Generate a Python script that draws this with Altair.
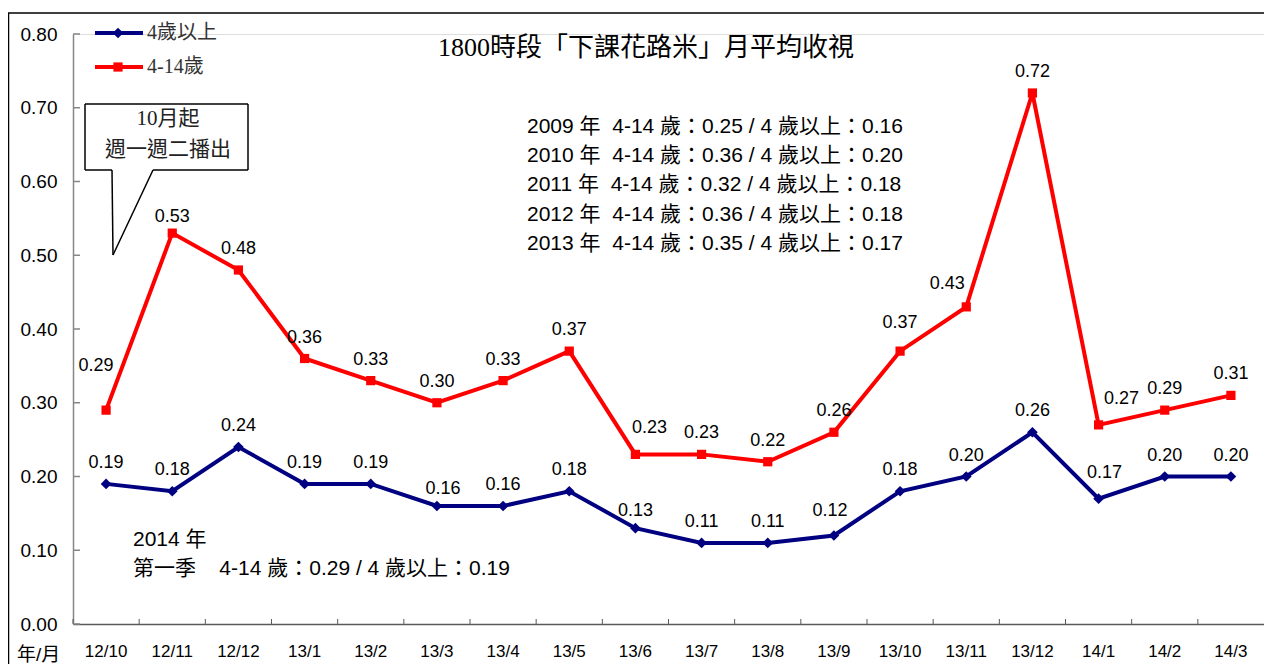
import altair as alt
import pandas as pd

months = ["12/10", "12/11", "12/12", "13/1", "13/2", "13/3", "13/4", "13/5", "13/6",
          "13/7", "13/8", "13/9", "13/10", "13/11", "13/12", "14/1", "14/2", "14/3"]
series_names = ["4歲以上", "4-14歲"]
age_4plus = [0.19, 0.18, 0.24, 0.19, 0.19, 0.16, 0.16, 0.18, 0.13,
             0.11, 0.11, 0.12, 0.18, 0.20, 0.26, 0.17, 0.20, 0.20]
age_4_14 = [0.29, 0.53, 0.48, 0.36, 0.33, 0.30, 0.33, 0.37, 0.23,
            0.23, 0.22, 0.26, 0.37, 0.43, 0.72, 0.27, 0.29, 0.31]
y_ticks = [0.0, 0.1, 0.2, 0.3, 0.4, 0.5, 0.6, 0.7, 0.8]

NB = "\u00a0"
title_text = "1800時段「下課花路米」月平均收視"
callout_lines = ["10月起", "週一週二播出"]
stats_lines = [
    "2009 年  4-14 歲：0.25 / 4 歲以上：0.16",
    "2010 年  4-14 歲：0.36 / 4 歲以上：0.20",
    "2011 年  4-14 歲：0.32 / 4 歲以上：0.18",
    "2012 年  4-14 歲：0.36 / 4 歲以上：0.18",
    "2013 年  4-14 歲：0.35 / 4 歲以上：0.17",
]
q1_lines = ["2014 年", "第一季    4-14 歲：0.29 / 4 歲以上：0.19"]
axis_unit = "年/月"

NAVY = "#000080"
RED = "#FF0000"
SANS = "Liberation Sans, Noto Sans CJK TC"
SERIF = "Liberation Serif, Noto Sans CJK TC"

W = 1191
H = 590

def keep_spaces(s):
    return s.replace(" ", NB)

rows = []
for m, v in zip(months, age_4plus):
    rows.append({"month": m, "series": series_names[0], "value": v})
for m, v in zip(months, age_4_14):
    rows.append({"month": m, "series": series_names[1], "value": v})
df = pd.DataFrame(rows)

one = pd.DataFrame({"k": [0]})

xenc = alt.X("month:N", sort=months,
             scale=alt.Scale(type="band", paddingInner=0, paddingOuter=0),
             axis=alt.Axis(title=None, labelAngle=0, ticks=False, tickSize=0,
                           labelPadding=19, labelFontSize=17, labelFont=SANS,
                           labelColor="#000", domainColor="#595959", domainWidth=1.5))
yenc = alt.Y("value:Q", scale=alt.Scale(domain=[0, 0.8], nice=False, zero=True),
             axis=alt.Axis(title=None, values=y_ticks, format=".2f", ticks=False, tickSize=0,
                           labelPadding=16, labelFontSize=19, labelFont=SANS,
                           labelColor="#000", domainColor="#868686", domainWidth=1.5,
                           grid=False))
color = alt.Color("series:N", scale=alt.Scale(domain=series_names, range=[NAVY, RED]),
                  legend=None)

base = alt.Chart(df)
lines = base.mark_line(strokeWidth=4).encode(x=xenc, y=yenc, color=color)
pts_navy = base.transform_filter(alt.datum.series == series_names[0]).mark_point(
    shape="diamond", filled=True, size=115, color=NAVY, opacity=1).encode(x=xenc, y=yenc)
pts_red = base.transform_filter(alt.datum.series == series_names[1]).mark_point(
    shape="square", filled=True, size=85, color=RED, opacity=1).encode(x=xenc, y=yenc)

exceptions = {
    (series_names[1], "12/10"): (-10, -44),
    (series_names[1], "12/11"): (0, -16),
    (series_names[1], "13/6"): (14, -26),
    (series_names[1], "13/10"): (0, -28),
    (series_names[1], "13/11"): (-19, -23),
    (series_names[1], "14/1"): (23, -26),
    (series_names[0], "13/3"): (6, -17),
    (series_names[0], "13/6"): (0, -17),
    (series_names[0], "14/1"): (6, -26),
    (series_names[0], "13/9"): (-4, -25),
}

def is_exc():
    cond = None
    for (s, m) in exceptions:
        c = (alt.datum.series == s) & (alt.datum.month == m)
        cond = c if cond is None else (cond | c)
    return cond

lbl_kw = dict(fontSize=18, font=SANS, color="#000", baseline="middle", align="center")
labels = base.transform_filter(~is_exc()).mark_text(dy=-21, **lbl_kw).encode(
    x=xenc, y=yenc, text=alt.Text("value:Q", format=".2f"))
exc_layers = []
for (s, m), (dx, dy) in exceptions.items():
    exc_layers.append(
        base.transform_filter((alt.datum.series == s) & (alt.datum.month == m))
        .mark_text(dx=dx, dy=dy, **lbl_kw)
        .encode(x=xenc, y=yenc, text=alt.Text("value:Q", format=".2f")))

# axis ticks (inward, Excel style)
xt = alt.Chart(pd.DataFrame({"month": months})).mark_rule(color="#595959", strokeWidth=1).encode(
    x=alt.X("month:N", sort=months, bandPosition=0), y=alt.value(H), y2=alt.value(H - 5))
yt = alt.Chart(pd.DataFrame({"value": y_ticks})).mark_rule(color="#868686", strokeWidth=1.5).encode(
    y=alt.Y("value:Q"), x=alt.value(0), x2=alt.value(7))

deco = []
# outer frame
deco.append(alt.Chart(one).mark_rule(color="#000", strokeWidth=1.5).encode(
    x=alt.value(-64.5), y=alt.value(-21), y2=alt.value(H + 45)))
deco.append(alt.Chart(one).mark_rule(color="#000", strokeWidth=1.5).encode(
    x=alt.value(-65), x2=alt.value(W + 10), y=alt.value(-21)))
# title
deco.append(alt.Chart(one).mark_text(text=title_text, font=SERIF, fontSize=26, color="#000",
                                     align="center", baseline="middle").encode(
    x=alt.value(573), y=alt.value(14)))
# legend
for i, (nm, col, shp, sz) in enumerate([(series_names[0], NAVY, "diamond", 115),
                                         (series_names[1], RED, "square", 85)]):
    yy = -1 + 34 * i
    deco.append(alt.Chart(one).mark_rule(color=col, strokeWidth=4).encode(
        x=alt.value(22), x2=alt.value(70), y=alt.value(yy)))
    deco.append(alt.Chart(one).mark_point(shape=shp, filled=True, size=sz, color=col, opacity=1).encode(
        x=alt.value(45), y=alt.value(yy)))
    deco.append(alt.Chart(one).mark_text(text=nm, font=SERIF, fontSize=20, color="#333",
                                         align="left", baseline="middle").encode(
        x=alt.value(74), y=alt.value(yy)))
# callout box
segs = [(12, 70, 175, 70), (12, 70, 12, 136), (175, 70, 175, 136),
        (12, 136, 39, 136), (80, 136, 175, 136), (39, 136, 40, 221), (40, 221, 80, 136)]
for (x1, y1, x2, y2) in segs:
    deco.append(alt.Chart(one).mark_rule(color="#000", strokeWidth=1.5).encode(
        x=alt.value(x1), y=alt.value(y1), x2=alt.value(x2), y2=alt.value(y2)))
for i, t in enumerate(callout_lines):
    deco.append(alt.Chart(one).mark_text(text=t, font=SERIF, fontSize=21, color="#222",
                                         align="center", baseline="middle").encode(
        x=alt.value(95), y=alt.value(85 + 31 * i)))
# stats block
for i, t in enumerate(stats_lines):
    deco.append(alt.Chart(one).mark_text(text=keep_spaces(t), font=SANS, fontSize=21, color="#000",
                                         align="left", baseline="middle").encode(
        x=alt.value(454), y=alt.value(93 + 29.2 * i)))
for i, t in enumerate(q1_lines):
    deco.append(alt.Chart(one).mark_text(text=keep_spaces(t), font=SANS, fontSize=21, color="#000",
                                         align="left", baseline="middle").encode(
        x=alt.value(60), y=alt.value(506 + 29 * i)))
deco.append(alt.Chart(one).mark_text(text=axis_unit, font=SANS, fontSize=19, color="#000",
                                     align="left", baseline="middle").encode(
    x=alt.value(-56), y=alt.value(621)))

chart = alt.layer(lines, pts_navy, pts_red, labels, *exc_layers, xt, yt, *deco).properties(
    width=W, height=H,
    padding={"left": 65, "top": 26, "right": 0, "bottom": 40},
    autosize="none",
).configure_view(stroke=None).configure(background="white")

chart.save("out.html", embed_options={"renderer": "svg", "actions": False})
